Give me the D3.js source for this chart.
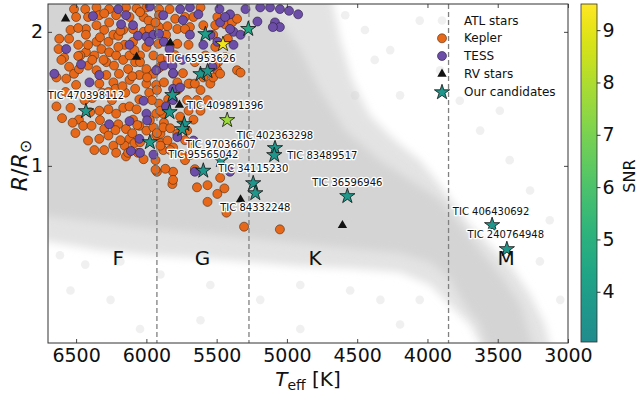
<!DOCTYPE html>
<html>
<head>
<meta charset="utf-8">
<script src="https://cdn.jsdelivr.net/npm/d3@7"></script>
<style>
  body { margin: 0; background: #ffffff; }
  svg text { font-family: "DejaVu Sans", sans-serif; }
</style>
</head>
<body>
<svg id="chart" width="638" height="396"></svg>
<script>
// ---------------- data ----------------
// Kepler planet hosts: [Teff (K), R (Rsun)]
const keplerHosts = [
  [6515,2.25],[6435,2.25],[6355,2.27],[6265,2.25],[6335,2.18],[6415,2.16],[6500,2.16],[6145,2.27],
  [6070,2.26],[6000,2.27],[5910,2.25],[6215,2.18],[6120,2.16],[6020,2.16],[5985,2.12],[6265,2.10],
  [6355,2.07],[6430,2.03],[6620,1.93],[6550,1.93],[6625,1.83],[6585,1.75],[6605,1.73],[6550,1.67],
  [6640,1.58],[6570,1.57],[6515,1.61],[6500,1.52],[6430,1.97],[6355,1.90],[6270,1.90],[6235,1.97],
  [6165,2.02],[6095,2.03],[6020,2.00],[5980,2.03],[5910,2.05],[6430,1.80],[6370,1.77],[6320,1.83],
  [6265,1.80],[6215,1.77],[6155,1.87],[6095,1.90],[6000,1.85],[5950,1.77],[5895,1.74],[6285,1.71],
  [6230,1.68],[6165,1.73],[6130,1.65],[6195,1.61],[6285,1.60],[6355,1.64],[6415,1.68],[6480,1.65],
  [6335,1.53],[6235,1.54],[6120,1.56],[6050,1.60],[6000,1.65],[5950,1.61],[6000,1.53],[5930,1.52],
  [5875,1.54],[5915,1.88],[5860,1.97],[6200,1.85],[6120,1.77],[5910,2.18],[5835,2.25],[6640,1.36],
  [6480,1.27],[6450,1.23],[6390,1.23],[6335,1.33],[6270,1.34],[6215,1.31],[6165,1.35],[6300,1.21],
  [6335,1.15],[6270,1.17],[6235,1.11],[6200,1.24],[6145,1.21],[6095,1.27],[6120,1.15],[6050,1.23],
  [6000,1.20],[6145,1.05],[6060,1.07],[6020,1.035],[6215,1.07],[6155,1.11],[6085,1.125],[5930,1.17],
  [5895,1.125],[5875,1.25],[5845,1.41],[5910,1.38],[5980,1.46],[6050,1.41],[6120,1.36],[6070,1.34],
  [5930,1.31],[5880,1.31],[6525,1.25],[6315,1.46],[6220,1.49],[6150,1.46],[6080,1.49],[5995,1.58],
  [5925,1.48],[5960,1.405],[5900,1.33],[5950,1.22],[5900,1.18],[6130,1.07],[5925,0.97],[5815,0.91],
  [5810,0.97],[5880,1.085],[5810,1.10],[5850,1.14],[5780,1.18],[5710,1.20],[5665,1.27],[5615,1.33],
  [5640,1.405],[5565,1.405],[5615,1.48],[5545,1.53],[5595,1.58],[5690,1.53],[5740,1.615],[5780,1.48],
  [5710,1.405],[5700,1.33],[5760,1.29],[5495,1.64],[5525,1.58],[5355,1.64],[5490,1.71],[5615,2.27],
  [5795,2.14],[5725,2.16],[5665,2.16],[5495,2.16],[5440,2.08],[5390,2.10],[5510,2.07],[5595,2.07],
  [5355,2.14],[5780,2.03],[5690,2.05],[5525,1.97],[5420,1.93],[5780,1.88],[5700,1.87],[5510,1.85],
  [5330,1.62],[5510,1.69],[5475,1.61],[5780,1.54],[5700,1.53],[5810,1.61],[5655,1.53],[5640,0.895],
  [5475,0.94],[5445,0.89],[5495,0.865],[5565,0.83],[5430,0.785],[5305,0.73],[5050,0.72],[6065,1.235],
  [6045,1.13],[5925,1.185],[5880,1.22],[5900,1.11],[5830,1.085],[5935,1.03],[5935,0.98],[5865,0.985],
  [5810,0.93],[5740,1.057],[5725,1.03],[5655,0.983],[5565,0.905],[5675,1.125],[6300,2.02],[6200,1.96],
  [6305,1.73],[6080,1.71],[6045,1.77],[5900,1.67],[5845,1.745],[6385,1.73],[6470,1.77],[6485,1.87],
  [6540,2.02],[6300,1.085],[6415,1.14],
  [6300,2.20],[6045,2.215],[5935,2.10],[6185,2.01],[6330,1.945],[6485,2.04],[6485,1.765],[6415,1.87],
  [6085,1.82],[6045,1.71],[5915,1.655],[6100,1.59],[6170,1.51],[6270,1.465],[6385,1.42],[6575,1.465],
  [6540,1.35],[6600,1.28],[6505,1.185],[6400,1.32],[6245,1.405],[6330,1.267],[6370,1.085],[5830,1.215],
  [5975,1.267],[5725,1.142],[5690,1.057],[5795,1.773],[5655,1.71],[5580,1.77],[5440,1.755],[5850,2.06],
  [5725,2.03],[6440,1.405],[6220,1.203],[6100,1.184],[6185,1.142]
];

// TESS planet hosts: [Teff (K), R (Rsun)]
const tessHosts = [
  [6380,2.17],[6200,2.25],[6180,2.08],[6095,2.07],[6145,2.18],[5975,2.28],[5880,2.18],[6060,1.96],
  [6000,1.95],[5950,1.97],[5910,1.98],[6120,1.87],[6570,1.83],[6465,1.69],[6655,1.61],[6335,1.60],
  [6405,1.54],[5930,1.64],[5875,1.68],[5980,1.90],[5875,1.90],[5835,1.83],[6020,1.40],[6000,1.31],
  [5995,1.265],[6120,1.26],[6265,1.24],[6050,1.15],[6110,1.08],[5950,1.06],[5810,1.49],[5860,1.36],
  [5760,2.25],[5690,2.27],[5480,2.25],[5405,2.19],[5295,2.25],[5190,2.27],[5120,2.27],[5050,2.25],
  [4985,2.23],[4920,2.19],[5085,2.10],[5050,2.05],[5100,2.05],[5210,2.11],[5380,2.00],[5330,1.97],
  [5405,2.03],[5475,2.10],[5440,2.16],[5545,1.97],[5595,1.87],[5380,1.87],[5495,1.90],[5690,1.97],
  [5740,2.125],[5630,2.19],[5815,1.68],[5530,1.67],[5810,1.405],[5760,1.50],[5665,1.14],[5780,1.16],
  [5655,0.97],[5405,0.97],[5810,1.615],[5745,1.73],[6045,1.07]
];

// Radial-velocity planet hosts: [Teff (K), R (Rsun)]
const rvHosts = [
  [6575,2.14],[6070,1.755],[5830,1.89],[5765,1.37],[5330,0.84],[4605,0.735]
];

// Candidates: [Teff (K), R (Rsun), SNR, TIC name]
const candidates = [
  [5580,1.976,4.0,""],
  [5275,2.03,4.5,""],
  [5455,1.877,9.25,""],
  [5615,1.607,3.6,"TIC 65953626"],
  [5565,1.632,3.7,""],
  [6430,1.327,3.8,"TIC 470398112"],
  [5815,1.442,3.7,""],
  [5835,1.32,3.6,""],
  [5730,1.241,3.6,""],
  [5745,1.209,3.7,""],
  [5975,1.13,3.8,""],
  [5595,0.975,3.6,"TIC 95565042"],
  [5470,1.03,3.6,"TIC 97036607"],
  [5240,0.914,3.6,"TIC 34115230"],
  [5225,0.868,3.7,"TIC 84332248"],
  [5085,1.096,3.6,"TIC 402363298"],
  [5090,1.057,3.6,"TIC 83489517"],
  [5425,1.267,7.65,"TIC 409891396"],
  [4570,0.855,3.7,"TIC 36596946"],
  [3540,0.736,3.6,"TIC 406430692"],
  [3435,0.650,3.7,"TIC 240764948"]
];

// ATL catalogue density envelopes: [Teff, R]
const atlOuterTop = [[6750,2.45],[4690,2.45],[4620,1.92],[4535,1.56],[4410,1.30],[4230,1.14],[4055,1.03],
  [3910,0.905],[3805,0.816],[3697,0.736],[3555,0.663],[3413,0.600],[3270,0.514],[3165,0.44],[3115,0.38]];
const atlOuterBottom = [[6750,0.68],[6330,0.646],[5975,0.630],[5615,0.620],[5260,0.608],[4905,0.595],
  [4550,0.589],[4195,0.577],[3980,0.540],[3840,0.487],[3697,0.44],[3590,0.38]];
const atlCoreTop = [[6750,2.45],[5260,2.45],[5050,2.125],[4905,1.82],[4765,1.48],[4585,1.20],[4340,1.03],
  [4125,0.929],[3910,0.837],[3768,0.736],[3626,0.646],[3484,0.569],[3340,0.487],[3235,0.38]];
const atlCoreBottom = [[6750,0.775],[6330,0.747],[5975,0.724],[5615,0.706],[5260,0.688],[4905,0.670],
  [4550,0.653],[4195,0.637],[3980,0.608],[3840,0.56],[3732,0.487],[3626,0.44],[3555,0.38]];
// sparse ATL stars outside the main band
const atlSparse = [
  [4585,2.18],[4445,2.02],[4265,1.82],[4055,2.12],[3910,1.64],[4195,1.44],[3770,1.40],[3625,1.20],
  [3415,1.03],[3270,0.88],[3130,0.755],[3485,1.33],[4375,1.73],[4515,1.44],[3200,0.61],[3055,0.50],
  [6615,0.63],[6435,0.60],[6185,0.61],[6540,0.525],[5900,0.57],[5545,0.54],[5190,0.50],[4905,0.54],
  [4550,0.525],[4335,0.50],[4055,0.50],[5615,0.45],[6255,0.50],[6045,0.43],[4905,0.43],[4195,0.44]
];

// Spectral-type boundaries (K) and labels
const spectralBounds = [5925, 5270, 3850];
const spectralLabels = [["F",6200,0.62],["G",5600,0.62],["K",4800,0.62],["M",3440,0.62]];

// Axis ticks
const teffTicks = [6500,6000,5500,5000,4500,4000,3500,3000];
const radiusTicks = [1,2];
const snrTicks = [4,5,6,7,8,9];

// Label placement for named candidates (pixel offsets from the marker)
const labelPlacement = {
  "TIC 470398112": {dx:0, dy:-16, anchor:"middle"},
  "TIC 65953626":  {dx:0, dy:-16, anchor:"middle"},
  "TIC 409891396": {dx:-2, dy:-15, anchor:"middle"},
  "TIC 402363298": {dx:0, dy:-13, anchor:"middle"},
  "TIC 97036607":  {dx:0, dy:-16, anchor:"middle"},
  "TIC 95565042":  {dx:0, dy:-16, anchor:"middle"},
  "TIC 34115230":  {dx:0, dy:-15, anchor:"middle"},
  "TIC 84332248":  {dx:0, dy:14, anchor:"middle"},
  "TIC 83489517":  {dx:13, dy:0, anchor:"start"},
  "TIC 36596946":  {dx:0, dy:-14, anchor:"middle"},
  "TIC 406430692": {dx:-1, dy:-14, anchor:"middle"},
  "TIC 240764948": {dx:-1, dy:-15, anchor:"middle"}
};

// ---------------- layout ----------------
const svg = d3.select("#chart");
const L = 48, R = 568, T = 4, B = 343;
const x = d3.scaleLinear().domain([6700, 3000]).range([L, R]);
const y = d3.scaleLog().domain([0.4, 2.31]).range([B, T]);

const snrMin = 3.04, snrMax = 9.5;
const snrColor = v => d3.interpolateViridis(0.48 + 0.52 * (v - snrMin) / (snrMax - snrMin));

const defs = svg.append("defs");
defs.append("clipPath").attr("id", "plotClip")
  .append("rect").attr("x", L).attr("y", T).attr("width", R - L).attr("height", B - T);
const blur = defs.append("filter").attr("id", "soft")
  .attr("x", "-10%").attr("y", "-10%").attr("width", "120%").attr("height", "120%");
blur.append("feGaussianBlur").attr("stdDeviation", 4);

const plot = svg.append("g").attr("clip-path", "url(#plotClip)");

// ATL density band
function band(top, bottom) {
  const pts = top.map(d => [x(d[0]), y(d[1])])
    .concat(bottom.slice().reverse().map(d => [x(d[0]), y(d[1])]));
  return d3.line()(pts) + "Z";
}
plot.append("path").attr("d", band(atlOuterTop, atlOuterBottom))
  .attr("fill", "#e3e3e3").attr("filter", "url(#soft)");
plot.append("path").attr("d", band(atlCoreTop, atlCoreBottom))
  .attr("fill", "#d4d4d4").attr("filter", "url(#soft)");
plot.selectAll("circle.atl").data(atlSparse).join("circle")
  .attr("class", "atl")
  .attr("cx", d => x(d[0])).attr("cy", d => y(d[1])).attr("r", 4.3)
  .attr("fill", "#d3d3d3").attr("opacity", 0.35);

// Kepler and TESS hosts
const ORANGE = "#e8681a", PURPLE = "#6c4ea8";
plot.selectAll("circle.kep").data(keplerHosts).join("circle")
  .attr("class", "kep")
  .attr("cx", d => x(d[0])).attr("cy", d => y(d[1])).attr("r", 4.5)
  .attr("fill", ORANGE).attr("stroke", "#4a2a10").attr("stroke-width", 0.6);
plot.selectAll("circle.tess").data(tessHosts).join("circle")
  .attr("class", "tess")
  .attr("cx", d => x(d[0])).attr("cy", d => y(d[1])).attr("r", 4.5)
  .attr("fill", PURPLE).attr("stroke", "#2a1a40").attr("stroke-width", 0.6);

// spectral-type boundaries
plot.selectAll("line.sp").data(spectralBounds).join("line")
  .attr("class", "sp")
  .attr("x1", d => x(d)).attr("x2", d => x(d)).attr("y1", T).attr("y2", B)
  .attr("stroke", "#808080").attr("stroke-width", 1.3).attr("stroke-dasharray", "5,3");

// RV hosts
const tri = d3.symbol(d3.symbolTriangle, 38);
plot.selectAll("path.rv").data(rvHosts).join("path")
  .attr("class", "rv")
  .attr("d", tri)
  .attr("transform", d => `translate(${x(d[0])},${y(d[1])})`)
  .attr("fill", "#111");

// candidates
const star = d3.symbol(d3.symbolStar, 72);
plot.selectAll("path.cand").data(candidates).join("path")
  .attr("class", "cand")
  .attr("d", star)
  .attr("transform", d => `translate(${x(d[0])},${y(d[1])})`)
  .attr("fill", d => snrColor(d[2]))
  .attr("stroke", "#111").attr("stroke-width", 0.8);

// candidate names
svg.append("g").selectAll("text").data(candidates.filter(d => d[3])).join("text")
  .attr("x", d => x(d[0]) + labelPlacement[d[3]].dx)
  .attr("y", d => y(d[1]) + labelPlacement[d[3]].dy)
  .attr("text-anchor", d => labelPlacement[d[3]].anchor)
  .attr("dominant-baseline", "central")
  .attr("font-size", 10)
  .attr("fill", "#111")
  .attr("stroke", "#fff").attr("stroke-width", 2.6)
  .attr("stroke-linejoin", "round")
  .attr("paint-order", "stroke")
  .text(d => d[3]);

// spectral-type letters
svg.append("g").selectAll("text").data(spectralLabels).join("text")
  .attr("x", d => x(d[1])).attr("y", d => y(d[2]))
  .attr("text-anchor", "middle").attr("dominant-baseline", "central")
  .attr("font-size", 20).attr("fill", "#111")
  .text(d => d[0]);

// ---------------- axes ----------------
const tickFont = 19;
const gx = svg.append("g").attr("transform", `translate(0,${B})`)
  .call(d3.axisBottom(x).tickValues(teffTicks).tickFormat(d3.format("d"))
    .tickSizeInner(-4).tickSizeOuter(0).tickPadding(5.5));
const gxTop = svg.append("g").attr("transform", `translate(0,${T})`)
  .call(d3.axisTop(x).tickValues(teffTicks).tickFormat("").tickSizeInner(-4).tickSizeOuter(0));
const gy = svg.append("g").attr("transform", `translate(${L},0)`)
  .call(d3.axisLeft(y).tickValues(radiusTicks).tickFormat(d3.format("d"))
    .tickSizeInner(-4).tickSizeOuter(0).tickPadding(5));
const gyRight = svg.append("g").attr("transform", `translate(${R},0)`)
  .call(d3.axisRight(y).tickValues(radiusTicks).tickFormat("").tickSizeInner(-4).tickSizeOuter(0));
[gx, gxTop, gy, gyRight].forEach(g => {
  g.select(".domain").remove();
  g.selectAll(".tick line").attr("stroke", "#333").attr("stroke-width", 0.9);
  g.selectAll(".tick text").attr("font-size", tickFont).attr("fill", "#111")
    .attr("font-family", "DejaVu Sans, sans-serif");
});
svg.append("rect").attr("x", L).attr("y", T).attr("width", R - L).attr("height", B - T)
  .attr("fill", "none").attr("stroke", "#333").attr("stroke-width", 1);

// axis titles
const xt = svg.append("text").attr("x", (L + R) / 2).attr("y", 386)
  .attr("text-anchor", "middle").attr("font-size", 20).attr("fill", "#111");
xt.append("tspan").attr("font-style", "italic").text("T");
xt.append("tspan").attr("font-size", 14).attr("dy", 4).text("eff");
xt.append("tspan").attr("dy", -4).text(" [K]");

const yt = svg.append("text")
  .attr("transform", `translate(27,${(T + B) / 2 - 8}) rotate(-90)`)
  .attr("text-anchor", "middle").attr("font-size", 22).attr("fill", "#111");
yt.append("tspan").attr("font-style", "italic").text("R");
yt.append("tspan").text("/");
yt.append("tspan").attr("font-style", "italic").text("R");
yt.append("tspan").attr("font-size", 16).attr("dy", 4).text("\u2299");

// ---------------- legend ----------------
const legend = svg.append("g");
const lx = 442, tx = 464;
const rows = [20.5, 38.3, 56, 74, 92.3];
legend.append("circle").attr("cx", lx).attr("cy", rows[0]).attr("r", 4.3)
  .attr("fill", "#d3d3d3").attr("opacity", 0.35);
legend.append("circle").attr("cx", lx).attr("cy", rows[1]).attr("r", 4.5)
  .attr("fill", ORANGE).attr("stroke", "#4a2a10").attr("stroke-width", 0.6);
legend.append("circle").attr("cx", lx).attr("cy", rows[2]).attr("r", 4.5)
  .attr("fill", PURPLE).attr("stroke", "#2a1a40").attr("stroke-width", 0.6);
legend.append("path").attr("d", tri).attr("transform", `translate(${lx},${rows[3]})`).attr("fill", "#111");
legend.append("path").attr("d", star).attr("transform", `translate(${lx},${rows[4]})`)
  .attr("fill", snrColor(3.6)).attr("stroke", "#111").attr("stroke-width", 0.8);
legend.selectAll("text").data(["ATL stars", "Kepler", "TESS", "RV stars", "Our candidates"]).join("text")
  .attr("x", tx).attr("y", (d, i) => rows[i]).attr("dominant-baseline", "central")
  .attr("font-size", 12).attr("fill", "#111").text(d => d);

// ---------------- colour bar ----------------
const cbL = 581, cbW = 16, cbT = 4, cbB = 342;
const grad = defs.append("linearGradient").attr("id", "snrGrad")
  .attr("x1", 0).attr("y1", 1).attr("x2", 0).attr("y2", 0);
d3.range(0, 1.0001, 0.05).forEach(t => {
  grad.append("stop").attr("offset", t).attr("stop-color", snrColor(snrMin + t * (snrMax - snrMin)));
});
svg.append("rect").attr("x", cbL).attr("y", cbT).attr("width", cbW).attr("height", cbB - cbT)
  .attr("fill", "url(#snrGrad)").attr("stroke", "#333").attr("stroke-width", 0.8);
const snrScale = d3.scaleLinear().domain([snrMin, snrMax]).range([cbB, cbT]);
const gc = svg.append("g").attr("transform", `translate(${cbL + cbW},0)`)
  .call(d3.axisRight(snrScale).tickValues(snrTicks).tickFormat(d3.format("d"))
    .tickSizeInner(3.5).tickSizeOuter(0).tickPadding(2));
gc.select(".domain").remove();
gc.selectAll(".tick line").attr("stroke", "#333");
gc.selectAll(".tick text").attr("font-size", tickFont).attr("fill", "#111")
  .attr("font-family", "DejaVu Sans, sans-serif");
svg.append("text").attr("transform", `translate(635,${(cbT + cbB) / 2 + 3}) rotate(-90)`)
  .attr("text-anchor", "middle").attr("font-size", 16).attr("fill", "#111").text("SNR");
</script>
</body>
</html>
